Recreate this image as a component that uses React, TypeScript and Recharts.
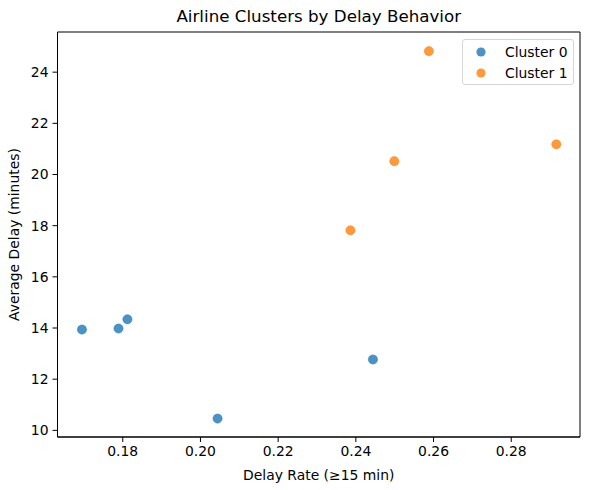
import React from "react";
import { ScatterChart, Scatter, XAxis, YAxis, ReferenceArea } from "recharts";

// cluster points
const cluster0Rate = [0.1695, 0.1789, 0.1812, 0.2044, 0.2444];
const cluster0Delay = [13.94, 13.98, 14.34, 10.46, 12.77];
const cluster1Rate = [0.2386, 0.2499, 0.2588, 0.2916];
const cluster1Delay = [17.82, 20.52, 24.82, 21.18];

const xTicks = [0.18, 0.2, 0.22, 0.24, 0.26, 0.28];
const yTicks = [10, 12, 14, 16, 18, 20, 22, 24];
const xDomain = [0.1632, 0.2977];
const yDomain = [9.74, 25.57];

const seriesNames = ["Cluster 0", "Cluster 1"];
const colors = ["#1f77b4", "#ff7f0e"];

const FONT = "DejaVu Sans, sans-serif";

const toPoints = (xs: number[], ys: number[]) =>
  xs.map((x, i) => ({ rate: x, delay: ys[i] }));

const makeDot = (color: string) => (props: any) =>
  (
    <circle
      cx={props.cx}
      cy={props.cy}
      r={4.6}
      fill={color}
      fillOpacity={0.8}
      stroke={color}
      strokeOpacity={0.8}
      strokeWidth={0.6}
    />
  );

// legend drawn as an overlay so it does not take space from the plot
const LegendBox = () => (
  <div
    style={{
      position: "absolute",
      left: 462,
      top: 39,
      width: 112,
      height: 46,
      border: "1px solid #d6d6d6",
      borderRadius: 3,
      background: "rgba(255,255,255,0.8)",
      fontFamily: FONT,
      fontSize: 13.9,
      color: "#000",
      boxSizing: "border-box",
      zIndex: 2,
    }}
  >
    {seriesNames.map((name, i) => (
      <div
        key={name}
        style={{
          position: "absolute",
          left: 13,
          top: 3.5 + i * 21.4,
          height: 16,
          display: "flex",
          alignItems: "center",
          whiteSpace: "nowrap",
        }}
      >
        <svg width={10} height={10} style={{ marginRight: 19 }}>
          <circle cx={5} cy={5} r={4.6} fill={colors[i]} fillOpacity={0.8} />
        </svg>
        <span>{name}</span>
      </div>
    ))}
  </div>
);

export default function App() {
  return (
    <div
      style={{
        position: "absolute",
        left: 0,
        top: 0,
        width: 590,
        height: 490,
        background: "#fff",
      }}
    >
      <div
        style={{
          position: "absolute",
          left: 57.5,
          width: 522.5,
          top: 6,
          textAlign: "center",
          fontFamily: FONT,
          fontSize: 16.7,
          color: "#000",
          zIndex: 2,
        }}
      >
        Airline Clusters by Delay Behavior
      </div>
      <LegendBox />
      <ScatterChart
        width={590}
        height={490}
        margin={{ top: 32, right: 10, left: 0, bottom: 0 }}
        style={{ fontFamily: FONT }}
      >
        <XAxis
          type="number"
          dataKey="rate"
          domain={xDomain}
          ticks={xTicks}
          allowDataOverflow
          height={53}
          tickFormatter={(v: number) => v.toFixed(2)}
          tick={{ fill: "#000", fontSize: 13.9 }}
          tickSize={5}
          tickMargin={4}
          tickLine={{ stroke: "#000" }}
          axisLine={{ stroke: "#000" }}
          label={{
            value: "Delay Rate (≥15 min)",
            position: "insideBottom",
            offset: 10,
            fill: "#000",
            fontSize: 13.9,
          }}
        />
        <YAxis
          type="number"
          dataKey="delay"
          domain={yDomain}
          ticks={yTicks}
          allowDataOverflow
          width={57.5}
          tick={{ fill: "#000", fontSize: 13.9 }}
          tickSize={5}
          tickMargin={4}
          tickLine={{ stroke: "#000" }}
          axisLine={{ stroke: "#000" }}
          label={{
            value: "Average Delay (minutes)",
            angle: -90,
            position: "insideLeft",
            offset: 14,
            style: { textAnchor: "middle" },
            fill: "#000",
            fontSize: 13.9,
          }}
        />
        <ReferenceArea
          x1={xDomain[0]}
          x2={xDomain[1]}
          y1={yDomain[0]}
          y2={yDomain[1]}
          fill="none"
          stroke="#000"
          strokeWidth={1}
          ifOverflow="visible"
        />
        <Scatter
          name={seriesNames[0]}
          data={toPoints(cluster0Rate, cluster0Delay)}
          fill={colors[0]}
          shape={makeDot(colors[0])}
          isAnimationActive={false}
        />
        <Scatter
          name={seriesNames[1]}
          data={toPoints(cluster1Rate, cluster1Delay)}
          fill={colors[1]}
          shape={makeDot(colors[1])}
          isAnimationActive={false}
        />
      </ScatterChart>
    </div>
  );
}
